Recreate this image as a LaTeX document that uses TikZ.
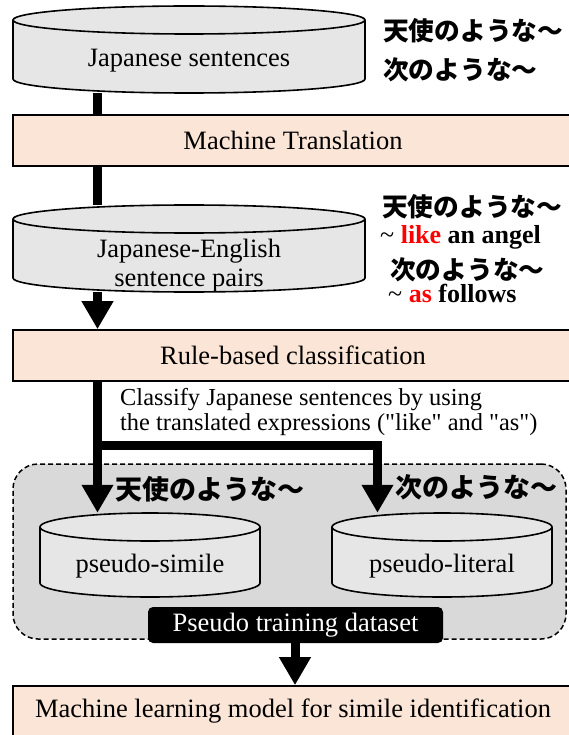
\documentclass[tikz,border=0pt]{standalone}
\usepackage{fontspec}
\setmainfont{Liberation Serif}
\newfontfamily\jp{Noto Sans CJK JP}
\usetikzlibrary{arrows.meta}
\definecolor{peach}{HTML}{FBE5D6}
\definecolor{cylgray}{HTML}{E6E6E6}
\definecolor{dashgray}{HTML}{D9D9D9}
\definecolor{hlred}{HTML}{FF0000}
\pgfdeclarelayer{back}
\pgfdeclarelayer{lines}
\pgfsetlayers{back,lines,main}
% name, x centre, top ellipse centre y, bottom ellipse centre y, rx, ry  (pixel y, downwards)
\newcommand\dbcyl[6]{%
  \filldraw[cylbody] ({#2-#5},{-#3}) -- ({#2-#5},{-#4})
    arc[start angle=180,end angle=360,x radius=#5,y radius=#6]
    -- ({#2+#5},{-#3})
    arc[start angle=0,end angle=180,x radius=#5,y radius=#6] -- cycle;
  \draw[cylbody,fill=none] ({#2-#5},{-#3})
    arc[start angle=180,end angle=360,x radius=#5,y radius=#6];
  \node[inner sep=0pt,minimum width={(2*#5)*1pt},minimum height={(#4-#3+2*#6)*1pt}]
    (#1) at ({#2},{-(#3+#4)/2}) {};
}
\tikzset{
  cylbody/.style={draw=black,line width=1.6pt,fill=cylgray},
  procbox/.style={draw=black,line width=1.6pt,fill=peach,minimum width=560pt,
    inner sep=0pt,font=\fontsize{26.5}{30}\selectfont},
  lab/.style={inner sep=0pt,anchor=base,font=\fontsize{26.5}{30}\selectfont},
  jlab/.style={inner sep=0pt,anchor=west,font=\jp\bfseries\fontsize{25.7}{30}\selectfont},
  jbig/.style={inner sep=0pt,anchor=west,font=\jp\bfseries\fontsize{27}{30}\selectfont},
  elab/.style={inner sep=0pt,anchor=base west,font=\fontsize{26}{30}\selectfont},
  note/.style={inner sep=0pt,anchor=base west,font=\fontsize{24.4}{25}\selectfont},
  flow/.style={line width=9pt,line join=miter},
  flowarrow/.style={flow,-{Triangle[width=30pt,length=28pt]}},
}
\begin{document}
\begin{tikzpicture}[x=1pt,y=1pt]
\useasboundingbox (0,0) rectangle (568,-735);

% group background
\begin{pgfonlayer}{back}
\node[draw=black,line width=1.5pt,dash pattern=on 5pt off 3pt,fill=dashgray,
  rounded corners=25pt,minimum width=553pt,minimum height=175pt,inner sep=0pt]
  (group) at (289.5,-551.5) {};
\end{pgfonlayer}

% cylinders
\dbcyl{cylA}{189}{20}{79}{176}{14}
\node[lab] at (189,-67) {Japanese sentences};
\dbcyl{cylB}{189}{219}{278}{176}{14}
\node[lab] at (189,-257) {Japanese-English};
\node[lab] at (189,-286) {sentence pairs};
\dbcyl{sim}{150}{527}{583}{110}{14}
\node[lab] at (150,-572) {pseudo-simile};
\dbcyl{lit}{442}{527}{583}{110}{14}
\node[lab] at (442,-572) {pseudo-literal};

% process boxes
\node[procbox,minimum height=51pt] (mt) at (293,-140.5) {Machine Translation};
\node[procbox,minimum height=51pt] (rule) at (293,-355.5) {Rule-based classification};
\node[procbox,minimum height=51pt] (ml) at (293,-711.5) {Machine learning model for simile identification};
\node[fill=black,rounded corners=5pt,minimum width=295pt,minimum height=36pt,inner sep=0pt,
  text=white,font=\fontsize{26.5}{30}\selectfont] (ptd) at (295.5,-625) {Pseudo training dataset};

% connectors
\coordinate (lx) at (97.5,0);
\coordinate (rx) at (377.5,0);
\coordinate (split) at (97.5,-445);
\begin{pgfonlayer}{lines}
\draw[flow] (cylA.south -| lx) -- (mt.north -| lx);
\draw[flow] (mt.south -| lx) -- (cylB.north -| lx);
\draw[flowarrow] (cylB.south -| lx) -- (rule.north -| lx);
\draw[flowarrow] (rule.south -| lx) -- (sim.north -| lx);
\draw[flowarrow] (split) -| (lit.north -| rx);
\draw[flowarrow] (ptd.south -| 295,0) -- (ml.north -| 295,0);
\end{pgfonlayer}

% annotations
\node[jlab] at (383,-31) {天使のような～};
\node[jlab] at (383,-70) {次のような～};
\node[jlab] at (382,-207) {天使のような～};
\node[elab] at (380,-243) {\textasciitilde{} \textbf{\textcolor{hlred}{like} an angel}};
\node[jlab] at (390,-270) {次のような～};
\node[elab] at (388,-302) {\textasciitilde{} \textbf{\textcolor{hlred}{as} follows}};
\node[note] at (120,-405) {Classify Japanese sentences by using};
\node[note] at (120,-430) {the translated expressions (\textquotedbl like\textquotedbl{} and \textquotedbl as\textquotedbl)};
\node[jbig] at (115,-489) {天使のような～};
\node[jbig] at (395,-487) {次のような～};
\end{tikzpicture}
\end{document}
